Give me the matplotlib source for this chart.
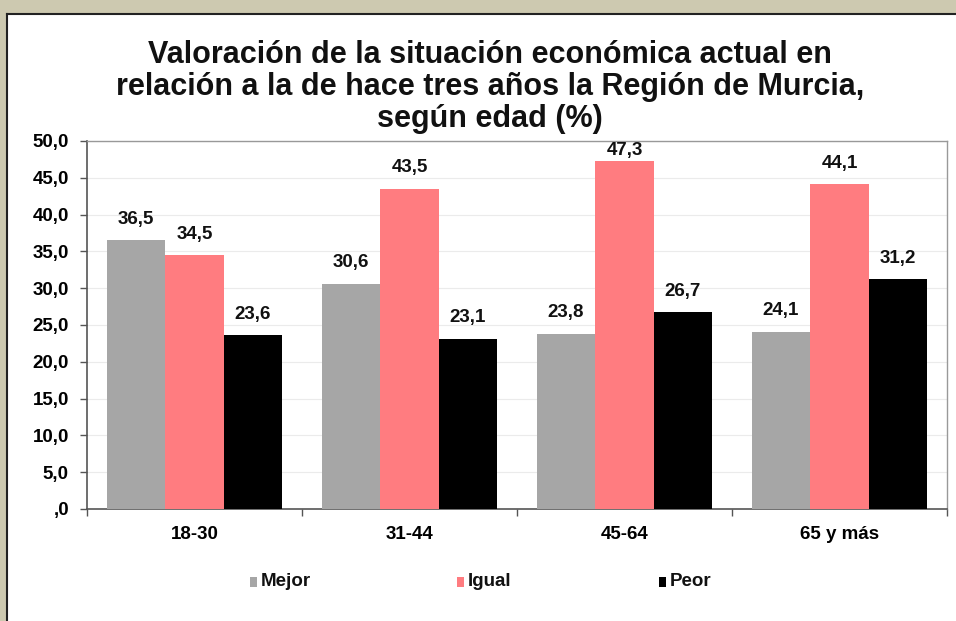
import matplotlib
matplotlib.use("Agg")
import matplotlib.pyplot as plt
import numpy as np
from matplotlib.patches import Rectangle
from matplotlib.ticker import FixedLocator

categories = ["18-30", "31-44", "45-64", "65 y más"]
series_names = ["Mejor", "Igual", "Peor"]
mejor = [36.5, 30.6, 23.8, 24.1]
igual = [34.5, 43.5, 47.3, 44.1]
peor = [23.6, 23.1, 26.7, 31.2]
yticks = [0, 5, 10, 15, 20, 25, 30, 35, 40, 45, 50]
ytick_labels = [",0", "5,0", "10,0", "15,0", "20,0", "25,0", "30,0", "35,0", "40,0", "45,0", "50,0"]
title = "Valoración de la situación económica actual en\nrelación a la de hace tres años la Región de Murcia,\nsegún edad (%)"

colors = ["#a6a6a6", "#ff7c80", "#000000"]

plt.rcParams['font.family'] = ['Liberation Sans', 'DejaVu Sans']

W, H = 956, 621
fig = plt.figure(figsize=(W / 100, H / 100), dpi=100)
fig.patch.set_facecolor("#cdc9b0")

# white panel with dark border
panel = Rectangle((7 / W, 0), 1 - 7 / W, 1 - 14 / H, transform=fig.transFigure,
                  facecolor="white", edgecolor="none", zorder=-10)
fig.patches.append(panel)
fig.add_artist(plt.Line2D([7 / W, 1], [1 - 14 / H, 1 - 14 / H], transform=fig.transFigure,
                          color="#222222", lw=1.5, zorder=-5))
fig.add_artist(plt.Line2D([7 / W, 7 / W], [0, 1 - 14 / H], transform=fig.transFigure,
                          color="#222222", lw=1.5, zorder=-5))

left, right, top, bottom = 87, 947, 141, 509
ax = fig.add_axes([left / W, 1 - bottom / H, (right - left) / W, (bottom - top) / H])
ax.set_zorder(1)
ax.set_facecolor("white")

x = np.arange(len(categories))
bw = 0.272
data = [mejor, igual, peor]
fs = 13.5
ymax = 50
px_per_unit = (bottom - top) / ymax
label_gap = 21 / px_per_unit          # label centre ~21 px above bar top
label_cap = ymax - 10 / px_per_unit   # keep label inside the plot area
for i, (vals, c, name) in enumerate(zip(data, colors, series_names)):
    pos = x + (i - 1) * bw
    ax.bar(pos, vals, width=bw, color=c, label=name, zorder=3)
    for p, v in zip(pos, vals):
        ax.text(p, min(v + label_gap, label_cap), f"{v:.1f}".replace(".", ","),
                ha="center", va="center", fontsize=fs, fontweight="bold",
                color="#111111", zorder=5)

ax.set_xlim(-0.5, len(categories) - 0.5)
ax.set_ylim(0, ymax)
ax.set_yticks(yticks)
ax.set_yticklabels(ytick_labels, fontsize=fs, fontweight="bold")
ax.set_xticks(x)
ax.set_xticklabels(categories, fontsize=fs, fontweight="bold")
ax.xaxis.set_minor_locator(FixedLocator(np.arange(-0.5, len(categories), 1.0)))
ax.tick_params(axis="x", which="major", length=0, pad=12)
ax.tick_params(axis="x", which="minor", length=5, width=1, color="#555555", direction="out")
ax.tick_params(axis="y", length=5, width=1, color="#555555", direction="out", pad=8)

ax.grid(axis="y", color="#ebebeb", lw=0.8, zorder=0)
ax.set_axisbelow(True)
for s in ["top", "right"]:
    ax.spines[s].set_color("#999999")
    ax.spines[s].set_linewidth(1)
for s in ["left", "bottom"]:
    ax.spines[s].set_color("#555555")
    ax.spines[s].set_linewidth(1.2)

fig.text(490 / W, 1 - 87 / H, title, ha="center", va="center", fontsize=22,
         fontweight="bold", linespacing=1.1, color="#111111")

for c, name, xc in zip(colors, series_names, [253, 460, 662]):
    fig.patches.append(Rectangle(((xc - 3.5) / W, 1 - 587 / H), 7 / W, 10 / H,
                                 transform=fig.transFigure, facecolor=c,
                                 edgecolor="none"))
    fig.text((xc + 8) / W, 1 - 581 / H, name, ha="left", va="center", fontsize=fs,
             fontweight="bold", color="#111111")

fig.savefig("out.png", dpi=100, facecolor=fig.get_facecolor())
